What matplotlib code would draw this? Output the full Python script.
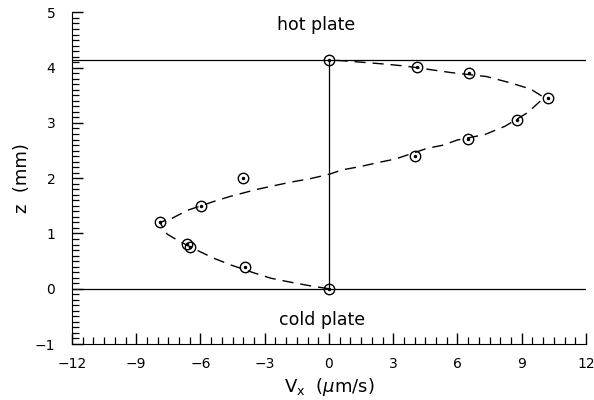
import matplotlib
matplotlib.use("Agg")
import matplotlib.pyplot as plt
from matplotlib.ticker import MultipleLocator

# measured points
pts_vx = [0, 4.09, 6.55, 10.21, 8.76, 6.47, 4.01, -4.03, -5.99, -7.89, -6.65, -6.5, -3.92, 0]
pts_z = [4.14, 4.01, 3.91, 3.46, 3.06, 2.71, 2.41, 2.00, 1.50, 1.20, 0.81, 0.76, 0.39, 0]

# dashed fitted profile
curve_vx = [0, -0.84, -1.82, -2.71, -3.45, -4.58, -5.37, -6.02, -7.0, -7.56, -7.9,
            -7.35, -6.6, -5.37, -4.62, -3.34, -1.77, -0.89, 0, 0.61, 1.45, 2.38, 3.13,
            4.58, 5.35, 5.98, 7.28, 8.22, 9.29, 9.85, 10.0, 9.43, 8.52, 7.35, 5.72,
            3.55, 2.45, 0.82, 0]
curve_z = [0, 0.05, 0.12, 0.19, 0.28, 0.43, 0.55, 0.67, 0.86, 0.99, 1.2,
           1.27, 1.42, 1.58, 1.67, 1.80, 1.93, 1.99, 2.07, 2.15, 2.21, 2.29, 2.35,
           2.54, 2.60, 2.69, 2.79, 2.94, 3.19, 3.39, 3.47, 3.61, 3.72, 3.84, 3.91,
           4.03, 4.07, 4.12, 4.14]

plate_z = [0, 4.14]
x_ticks = [-12, -9, -6, -3, 0, 3, 6, 9, 12]
y_ticks = [-1, 0, 1, 2, 3, 4, 5]

fig = plt.figure(figsize=(5.94, 4.0), dpi=100)
ax = fig.add_axes([0.1212, 0.14, 0.8653, 0.829])
ax.set_xlim(-12, 12)
ax.set_ylim(-1, 5)

for z in plate_z:
    ax.plot([-12, 12], [z, z], color='black', lw=0.9)
ax.plot([0, 0], plate_z, color='black', lw=0.9)

line, = ax.plot(curve_vx, curve_z, color='black', lw=1.0)
line.set_dashes((8, 5))

ax.plot(pts_vx, pts_z, linestyle='none', marker='o', markersize=7.5,
        markerfacecolor='none', markeredgecolor='black', markeredgewidth=1.0)
ax.plot(pts_vx, pts_z, linestyle='none', marker='o', markersize=1.5,
        markerfacecolor='black', markeredgecolor='black')

ax.text(-0.6, 4.77, 'hot plate', ha='center', va='center', fontsize=12.5)
ax.text(-0.3, -0.56, 'cold plate', ha='center', va='center', fontsize=12.5)

ax.spines['top'].set_visible(False)
ax.spines['right'].set_visible(False)
ax.set_xticks(x_ticks)
ax.set_yticks(y_ticks)
ax.xaxis.set_minor_locator(MultipleLocator(0.5))
ax.yaxis.set_minor_locator(MultipleLocator(0.1))
ax.tick_params(which='major', direction='in', length=8, width=1, labelsize=10)
ax.tick_params(which='minor', direction='in', length=5, width=0.9)
ax.tick_params(axis='x', which='major', pad=9)
ax.tick_params(axis='y', which='major', pad=12)

ax.set_xlabel(r'V$_{\mathrm{x}}$  ($\mu$m/s)', fontsize=13, labelpad=4)
ax.set_ylabel('z  (mm)', fontsize=13, labelpad=3)

fig.savefig('out.png', dpi=100)
